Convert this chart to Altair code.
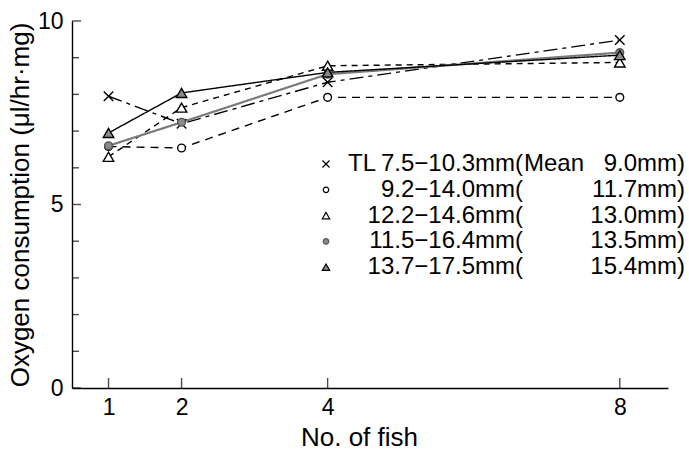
import altair as alt
import pandas as pd

# ---- data ----
fish = [1, 2, 4, 8]
s_cross = [7.95, 7.2, 8.33, 9.48]      # TL 7.5-10.3 mm
s_ocirc = [6.58, 6.54, 7.92, 7.92]     # 9.2-14.0 mm
s_otri = [6.3, 7.64, 8.78, 8.87]       # 12.2-14.6 mm
s_gcirc = [6.6, 7.24, 8.55, 9.14]      # 11.5-16.4 mm
s_ftri = [6.95, 8.04, 8.6, 9.07]       # 13.7-17.5 mm

series_keys = ["cross", "ocirc", "otri", "gcirc", "ftri"]
series_vals = [s_cross, s_ocirc, s_otri, s_gcirc, s_ftri]
ranges = ["7.5−10.3mm(", "9.2−14.0mm(", "12.2−14.6mm(", "11.5−16.4mm(", "13.7−17.5mm("]
means = ["9.0mm)", "11.7mm)", "13.0mm)", "13.5mm)", "15.4mm)"]

x_ticks = [1, 2, 4, 8]
y_major = [0, 5, 10]
y_minor = [1, 2, 3, 4, 6, 7, 8, 9]

FONT = "Liberation Sans"
W, H = 596, 367

rows = []
for k, vals in zip(series_keys, series_vals):
    for f, v in zip(fish, vals):
        rows.append({"s": k, "fish": f, "val": v})
df = pd.DataFrame(rows)

xs = alt.Scale(domain=[0.5, 8.66], nice=False, zero=False)
ys = alt.Scale(domain=[0, 10], nice=False)
x_axis = alt.Axis(values=x_ticks, title="No. of fish", titleX=287, titleAlign="center")
y_axis = alt.Axis(values=y_major, title="Oxygen consumption (μl/hr·mg)")

X_PATH = "M-1,-1L1,1M-1,1L1,-1"
styles = {
    "cross": dict(dash=[14, 5, 4, 5], color="black", width=1.4,
                  shape=X_PATH, fill="none", stroke="black", size=90),
    "ocirc": dict(dash=[8, 6], color="black", width=1.4,
                  shape="circle", fill="white", stroke="black", size=60),
    "otri": dict(dash=[6, 5], color="black", width=1.4,
                 shape="triangle-up", fill="white", stroke="black", size=110),
    "gcirc": dict(dash=[1, 0], color="#7a7a7a", width=2.2,
                  shape="circle", fill="#8a8a8a", stroke="#555555", size=60),
    "ftri": dict(dash=[1, 0], color="black", width=1.4,
                 shape="triangle-up", fill="#8a8a8a", stroke="black", size=110),
}

x_enc = alt.X("fish:Q", scale=xs, axis=x_axis)
y_enc = alt.Y("val:Q", scale=ys, axis=y_axis)

layers = []
for k in series_keys:
    st = styles[k]
    base = alt.Chart(df).transform_filter(alt.datum.s == k)
    layers.append(base.mark_line(strokeDash=st["dash"], color=st["color"],
                                 strokeWidth=st["width"]).encode(x=x_enc, y=y_enc))
for k in series_keys:
    st = styles[k]
    base = alt.Chart(df).transform_filter(alt.datum.s == k)
    layers.append(base.mark_point(shape=st["shape"], filled=True, fill=st["fill"],
                                  stroke=st["stroke"], strokeWidth=1.4, opacity=1,
                                  fillOpacity=1, size=st["size"]).encode(x=x_enc, y=y_enc))

# inward ticks
xt = alt.Chart(pd.DataFrame({"fish": x_ticks})).mark_tick(
    orient="vertical", size=10, thickness=1.4, color="black").encode(
    x=x_enc, y=alt.value(H - 5))
ytM = alt.Chart(pd.DataFrame({"val": y_major})).mark_tick(
    orient="horizontal", size=9, thickness=1.4, color="black").encode(
    y=y_enc, x=alt.value(4.5))
ytm = alt.Chart(pd.DataFrame({"val": y_minor})).mark_tick(
    orient="horizontal", size=7, thickness=1.4, color="black").encode(
    y=y_enc, x=alt.value(3.5))
layers += [xt, ytM, ytm]

# custom legend
LEG_Y0, LEG_DY = 143, 25.8
SYM_X, RANGE_R, MEAN_R = 254, 451, 613
for i, k in enumerate(series_keys):
    st = styles[k]
    yy = LEG_Y0 + i * LEG_DY
    ld = pd.DataFrame({"r": [ranges[i]], "m": [means[i]]})
    sym_size = {"cross": 50, "ocirc": 30, "otri": 55, "gcirc": 30, "ftri": 55}[k]
    layers.append(alt.Chart(ld).mark_point(
        shape=st["shape"], filled=True, fill=st["fill"], stroke=st["stroke"],
        strokeWidth=1.2, opacity=1, size=sym_size).encode(
        x=alt.value(SYM_X), y=alt.value(yy)))
    layers.append(alt.Chart(ld).mark_text(
        align="right", baseline="middle", font=FONT, fontSize=24, color="black").encode(
        x=alt.value(RANGE_R), y=alt.value(yy), text="r:N"))
    layers.append(alt.Chart(ld).mark_text(
        align="right", baseline="middle", font=FONT, fontSize=24, color="black").encode(
        x=alt.value(MEAN_R), y=alt.value(yy), text="m:N"))
    if i == 0:
        layers.append(alt.Chart(ld).mark_text(
            align="left", baseline="middle", font=FONT, fontSize=24, color="black").encode(
            x=alt.value(276), y=alt.value(yy), text=alt.value("TL")))
        layers.append(alt.Chart(ld).mark_text(
            align="left", baseline="middle", font=FONT, fontSize=24, color="black").encode(
            x=alt.value(RANGE_R + 1), y=alt.value(yy), text=alt.value("Mean")))

chart = alt.layer(*layers).properties(
    width=W, height=H,
    autosize=alt.AutoSizeParams(type="none"),
    padding={"left": 72, "top": 21, "right": 21, "bottom": 62},
    background="white",
).configure_view(stroke=None).configure_axis(
    grid=False, ticks=False, domainColor="black", domainWidth=1.4,
    labelFont=FONT, labelFontSize=23, labelColor="black",
    titleFont=FONT, titleFontSize=26, titleFontWeight="normal", titleColor="black",
).configure_axisX(labelPadding=8, titlePadding=5).configure_axisY(
    labelPadding=9, titlePadding=4)

chart.save("out.html", embed_options={"renderer": "svg", "actions": False})
